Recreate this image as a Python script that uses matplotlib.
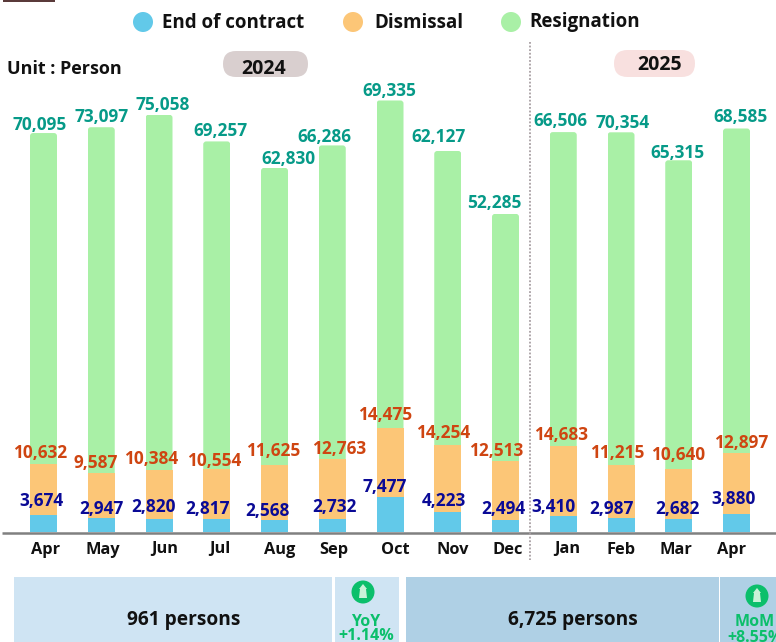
"""Monthly separations by reason, stacked bars with summary panels."""

import matplotlib

matplotlib.use("Agg")
import matplotlib.pyplot as plt
from matplotlib.patches import Circle, FancyBboxPatch, Polygon, Rectangle

months = ["Apr", "May", "Jun", "Jul", "Aug", "Sep", "Oct", "Nov", "Dec", "Jan", "Feb", "Mar", "Apr"]
end_of_contract = [3674, 2947, 2820, 2817, 2568, 2732, 7477, 4223, 2494, 3410, 2987, 2682, 3880]
dismissal = [10632, 9587, 10384, 10554, 11625, 12763, 14475, 14254, 12513, 14683, 11215, 10640, 12897]
resignation = [70095, 73097, 75058, 69257, 62830, 66286, 69335, 62127, 52285, 66506, 70354, 65315, 68585]

legend_names = ["End of contract", "Dismissal", "Resignation"]
COLORS = ["#62C9E9", "#FCC677", "#A9F0A6"]
LABEL_COLORS = ["#0A0A96", "#CF4511", "#069A88"]

# label centres in image pixels, the source placed these by hand
blue_xy = [(41, 500), (101, 507), (154, 506), (208, 508), (267, 510), (334, 506), (385, 486),
           (444, 499), (503, 508), (554, 506), (611, 508), (677, 507), (734, 498)]
orange_xy = [(40, 452), (96, 461), (151, 458), (214, 459), (273, 449), (339, 447), (385, 414),
             (443, 432), (496, 450), (561, 434), (617, 451), (678, 454), (741, 442)]
green_xy = [(40, 123), (102, 116), (163, 103), (220, 129), (288, 157), (324, 136), (389, 89),
            (439, 136), (494, 202), (560, 119), (623, 121), (677, 152), (741, 116)]
month_x = [46, 103, 165, 220, 280, 334, 395, 453, 508, 567, 621, 676, 732]

W, H = 776, 642
BASE_Y = 532
STEP = 57.75
FIRST_X = 43.5
PX_PER_PERSON = 0.004727
FONT = "Open Sans"
TEXT_DY = 1.5


def pill(ax, x0, y0, x1, y1, color):
    r = (y1 - y0) / 2
    ax.add_patch(FancyBboxPatch((x0 + r, y0 + r), x1 - x0 - 2 * r, 0,
                                boxstyle=f"round,pad={r},rounding_size={r}",
                                fc=color, ec="none"))


def up_icon(ax, cx, cy):
    ax.add_patch(Circle((cx, cy), 11.5, fc="#0BBF6B", ec="none"))
    shape = [(cx, cy - 8), (cx + 4, cy - 3), (cx + 3, cy - 3), (cx + 4, cy + 6),
             (cx - 4, cy + 6), (cx - 3, cy - 3), (cx - 4, cy - 3)]
    ax.add_patch(Polygon(shape, closed=True, fc="#C9F2D8", ec="none"))


def label(ax, x, y, text, color="#111111", size=12.4, ha="center"):
    ax.text(x, y + TEXT_DY, text, color=color, fontsize=size, fontweight="bold", family=FONT,
            ha=ha, va="center")


fig = plt.figure(figsize=(W / 100, H / 100), dpi=100)
ax = fig.add_axes([0, 1 - BASE_Y / H, 1, BASE_Y / H])
over = fig.add_axes([0, 0, 1, 1], facecolor="none")
over.set_xlim(0, W)
over.set_ylim(H, 0)
over.axis("off")

ax.set_xlim(-FIRST_X / STEP, (W - FIRST_X) / STEP)
ax.set_ylim(0, BASE_Y / PX_PER_PERSON)
ax.axis("off")

xs = list(range(len(months)))
width = 27 / STEP
bottoms2 = [a + b for a, b in zip(end_of_contract, dismissal)]
ax.bar(xs, end_of_contract, width, color=COLORS[0])
ax.bar(xs, dismissal, width, bottom=end_of_contract, color=COLORS[1])
green_bars = ax.bar(xs, resignation, width, bottom=bottoms2, color=COLORS[2])

# round the top corners of the stacks
for bar, x, b, r in zip(green_bars, xs, bottoms2, resignation):
    left = FIRST_X + STEP * x - 13.5
    top = BASE_Y - (b + r) * PX_PER_PERSON
    clip = FancyBboxPatch((left, top), 27, r * PX_PER_PERSON + 5,
                          boxstyle="round,pad=0,rounding_size=3",
                          transform=over.transData, fc="none", ec="none")
    bar.set_clip_path(clip)

for positions, values, color in zip((blue_xy, orange_xy, green_xy),
                                    (end_of_contract, dismissal, resignation), LABEL_COLORS):
    for (px, py), value in zip(positions, values):
        label(over, px, py, f"{value:,}", color=color)

for px, name in zip(month_x, months):
    label(over, px, 548, name, size=11.8)

over.plot([2, W], [532.5, 532.5], color="#808080", lw=1.8, solid_capstyle="butt")
over.plot([530, 530], [42, 560], color="#A89FA3", lw=1.3, ls=(0, (1, 1)))

# legend
for cx, color, tx, name in zip((143, 353, 511), COLORS, (162, 374, 529), legend_names):
    over.add_patch(Circle((cx, 22), 10, fc=color, ec="none"))
    label(over, tx, 21, name, size=13.5, ha="left")

label(over, 7, 67, "Unit : Person", size=13, ha="left")
pill(over, 223, 51, 308, 77, "#D9CFCF")
pill(over, 614, 50, 695, 77, "#F8E0DF")
label(over, 264, 67, "2024", size=14)
label(over, 660, 64, "2025", size=14)

# summary panels
for x0, x1, color in ((14, 332, "#CFE4F3"), (335, 399, "#CFE4F3"),
                      (406, 719, "#AFD0E5"), (720, W, "#AFD0E5")):
    over.add_patch(Rectangle((x0, 577), x1 - x0, H - 577, fc=color, ec="none"))
label(over, 184, 618, "961 persons", size=13.8)
label(over, 573, 618, "6,725 persons", size=13.8)
up_icon(over, 363, 592)
up_icon(over, 757, 596)
label(over, 366, 620, "YoY", color="#0BBF6B", size=11.5)
label(over, 366, 635, "+1.14%", color="#0BBF6B", size=11.5)
label(over, 755, 620, "MoM", color="#0BBF6B", size=11.5)
label(over, 755, 636, "+8.55%", color="#0BBF6B", size=11.5)

# sliver of the cropped logo at the top edge
over.add_patch(Rectangle((3, 0), 52, 1.5, fc="#5A3A3A", ec="none"))

fig.savefig("out.png", dpi=100)
